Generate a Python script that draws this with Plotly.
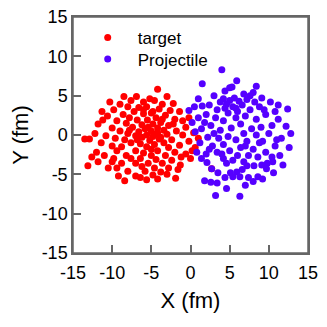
import plotly.graph_objects as go

# nucleon positions (fm)
target_x = [
    -4.2, -8.5, -6.9, -10.3, -5.2, -3.0, -7.6, -6.0, -4.6, -2.2, -9.0, -5.6, -3.6, -8.0, -6.6, -4.0,
    -11.3, -9.8, -2.6, -1.4, -7.2,
    -10.6, -8.6, -6.0, -5.0, -3.2, -4.4, -7.8, -9.4, -6.8, -5.5, -2.0, -1.0, -3.8, -11.8, -8.2,
    -4.8, -6.2, -0.6, -2.8,
    -10.0, -7.4, -5.8, -4.2, -3.4, -9.0, -6.6, -5.0, -1.8, -12.2, -8.0, -4.6, -5.6, -3.0, -1.0,
    0.4, -10.8, -7.0, -6.2,
    -13.5, -12.9, -9.6, -8.4, -4.0, -5.2, -2.4, -0.2, 1.0, -11.4, -7.6, -6.4, -4.6, -3.4, -1.4,
    -10.0, -8.8, -5.6, 0.6, -2.8,
    -12.0, -9.4, -7.0, -4.2, -6.0, -2.0, -0.6, -11.0, -8.2, -5.0, -3.2, -1.2, -9.8, -7.6, -6.4,
    -4.4, -2.4, 0.0,
    -13.1, -10.5, -11.8, -8.8, -7.0, -5.4, -3.6, -1.3, -9.4, -6.2, -4.6, -2.8, 2.7, -8.0, -5.8, -3.8,
    -8.4, -5.6, -9.2, -7.0, -4.8, -6.4, -3.0, -1.9, -4.2,
    -5.4, -4.8, -4.2, -3.8, -5.0, -6.8, -7.8, -2.2, -3.6, -6.0, -4.8, -0.2, 0.2, -1.6, -11.2,
    -12.6, -10.0,
]
target_y = [
    5.8, 4.9, 4.9, 4.2, 4.6, 4.9, 4.4, 4.2, 4.4, 4.0, 3.9, 3.6, 3.9, 3.6, 3.5, 3.3,
    3.0, 3.2, 3.1, 3.0, 3.0,
    2.4, 2.6, 2.7, 2.8, 2.5, 2.2, 2.2, 1.8, 1.9, 1.9, 2.0, 1.8, 1.6, 1.4, 1.5,
    1.4, 1.3, 1.0, 1.2,
    0.9, 1.0, 0.8, 0.9, 0.6, 0.5, 0.4, 0.5, 0.5, 0.2, 0.2, 0.1, 0.0, 0.1, 0.0,
    0.3, -0.1, -0.1, -0.3,
    -0.5, -0.5, -0.4, -0.6, -0.5, -0.7, -0.6, -0.8, -0.4, -1.0, -1.0, -1.1, -1.2, -1.0, -1.3,
    -1.4, -1.5, -1.5, -1.6, -1.6,
    -2.2, -2.0, -2.0, -2.0, -2.3, -2.2, -2.4, -2.6, -2.6, -2.6, -2.6, -2.8, -3.0, -3.0, -3.0,
    -3.1, -3.2, -3.0,
    -3.9, -4.2, -3.4, -3.6, -3.6, -3.6, -3.6, -3.8, -4.2, -4.0, -4.2, -4.2, -4.3, -4.6, -4.6, -4.7,
    -5.8, -5.7, -5.2, -5.2, -5.1, -5.4, -5.0, -5.5, -5.6,
    1.0, -0.2, 0.3, -0.3, -1.8, -0.6, 0.6, 1.4, 2.0, 3.2, 3.0, 2.2, -2.0, -4.4, 1.9,
    -2.8, -3.4,
]

projectile_x = [
    4.0, 5.9, 1.5, 5.3, 5.0, 4.4, 7.6, 9.1, 10.2, 12.4, 0.5, 1.5, 2.4, -0.2, 3.4, 4.2, 5.0, 5.6,
    6.2, 4.6, 5.4, 6.6, 7.2, 8.2, 6.0, 4.8, 7.6, 8.8, 10.8, 11.2, 9.6, 3.2, 2.0, 1.0, 0.2, 5.8,
    7.0, 8.4, 4.2, 6.4, 12.2, 10.4, 9.0, 7.8, 2.6, 1.4, 3.8, 5.2, 6.8, 8.4, 10.0, 11.6,
    2.2, 3.6, 4.8, 5.8, 7.2, 9.2, 12.6, 10.8, 1.2, 2.8, 4.2, 6.4, 8.0, 9.6, 11.4, 0.8, 2.0,
    3.4, 5.0, 6.0, 7.4, 8.6, 10.4, 1.4, 4.2, 5.4, 6.8, 9.8, 11.8, 2.1, 4.6, 7.2, 8.1, 9.1,
    10.5, 2.7, 3.5, 5.1, 5.9, 9.7, 6.6, 1.8, 3.4, 3.2, 6.3, 5.4, 6.3, 7.4, 8.0, 8.6, 4.4,
    4.4, 5.8, 3.8, 6.8, 7.0, 3.0, 2.4, 4.0, 8.8, 10.6, 11.0, 0.6, 1.8, 9.4, 8.0, 3.0, 1.0,
    2.6, 7.0, 9.2, 11.2, 12.8, 4.6, 8.4,
]
projectile_y = [
    8.3, 6.9, 6.5, 6.1, 6.0, 5.6, 5.0, 4.7, 4.2, 3.3, 3.6, 3.7, 3.8, 3.1, 3.2, 4.6, 4.4, 4.7,
    4.3, 3.9, 3.6, 3.8, 4.5, 4.2, 3.0, 2.8, 3.2, 3.6, 3.0, 2.0, 2.6, 2.2, 2.6, 2.2, 1.6, 2.2,
    2.4, 2.0, 1.8, 1.4, 1.1, 1.2, 1.0, 0.8, 1.2, 0.8, 0.6, 0.9, 0.2, 0.0, 0.2, -0.4,
    -0.3, -0.4, -0.2, -0.6, -0.8, -0.8, -1.6, -1.4, -1.0, -1.4, -1.2, -1.6, -1.8, -2.2, -2.6, -2.2, -2.4,
    -2.2, -2.0, -2.6, -2.6, -2.8, -2.8, -3.0, -3.0, -3.2, -3.4, -3.6, -3.8, -3.5, -3.6, -3.9, -3.9, -3.8,
    -3.4, -4.3, -4.8, -4.8, -4.7, -4.3, -4.4, -5.8, -6.1, -7.7, -7.8, -5.3, -5.3, -5.4, -5.9, -5.3, -5.4,
    3.4, 3.4, 4.2, 5.2, -1.4, 0.2, -1.8, -2.4, -1.0, -4.8, -0.6, 0.4, 1.6, 3.2, 5.4, 5.0, 4.6,
    -6.0, -6.4, -5.6, 3.8, 0.2, -6.8, 6.2,
]

tick_vals = [-15, -10, -5, 0, 5, 10, 15]
tick_text = ["-15", "-10", "-5", "0", "5", "10", "15"]

AXIS_GREY = "#666666"
FONT = "Liberation Sans, Arial, sans-serif"

fig = go.Figure()
fig.add_trace(go.Scatter(
    x=target_x, y=target_y, mode="markers", name="target",
    showlegend=True,
    marker=dict(color="#ff0000", size=7, line=dict(width=0)),
))
fig.add_trace(go.Scatter(
    x=projectile_x, y=projectile_y, mode="markers", name="Projectile",
    legend="legend2", showlegend=True,
    marker=dict(color="#5500ff", size=7, line=dict(width=0)),
))

axis_common = dict(
    range=[-15, 15],
    tickvals=tick_vals,
    ticktext=tick_text,
    ticks="inside",
    ticklen=8,
    tickwidth=1.5,
    tickcolor=AXIS_GREY,
    showline=True,
    linecolor=AXIS_GREY,
    linewidth=1.5,
    mirror=True,
    showgrid=False,
    zeroline=False,
    automargin=False,
    ticklabeloverflow="allow",
    tickfont=dict(size=18, color="black", family=FONT),
)

legend_common = dict(
    xanchor="left", yanchor="middle",
    bgcolor="rgba(0,0,0,0)", font=dict(size=17),
    itemwidth=50,
)

# the page body keeps its default 8px margin, so the figure is 8px smaller
fig.update_layout(
    width=311,
    height=311,
    margin=dict(l=65, r=11, t=9, b=66),
    plot_bgcolor="white",
    paper_bgcolor="white",
    font=dict(family=FONT, size=18, color="black"),
    xaxis=dict(axis_common, ticklabelstandoff=3, title=dict(text="X (fm)", standoff=10)),
    yaxis=dict(axis_common, title=dict(text="Y (fm)", standoff=18)),
    legend=dict(legend_common, x=0.02, y=0.911),
    legend2=dict(legend_common, x=0.02, y=0.82),
)

# frame box around the plot area
fig.add_shape(
    type="rect", xref="paper", yref="paper", x0=0, y0=0, x1=1, y1=1,
    line=dict(color=AXIS_GREY, width=1.5), layer="above",
)

fig.write_html("out.html")
